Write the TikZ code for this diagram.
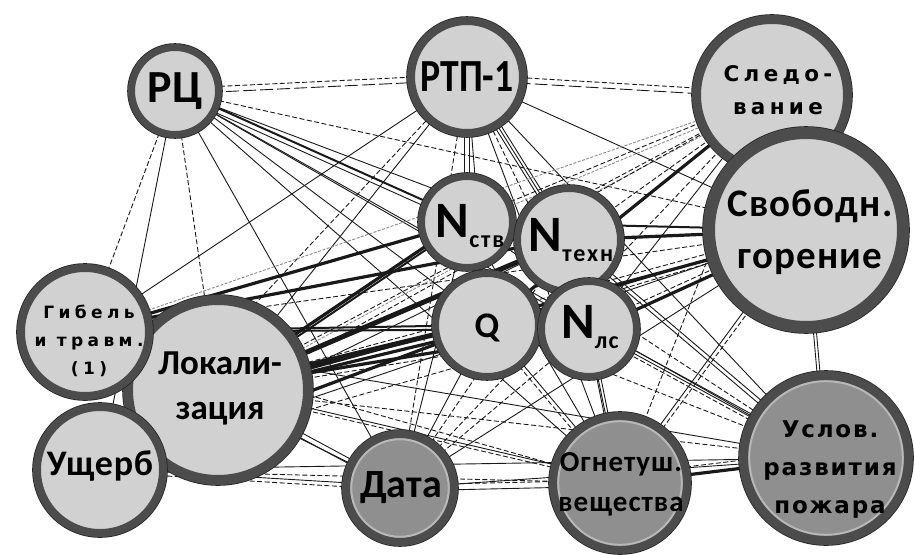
\documentclass[tikz,border=0pt]{standalone}
\usepackage{fontspec}
\setmainfont{Carlito}
\newfontfamily\dvs{DejaVu Sans}
\usetikzlibrary{calc,backgrounds}

\definecolor{bubfill}{gray}{0.82}
\definecolor{darkfill}{gray}{0.56}
\definecolor{ringc}{gray}{0.30}
\definecolor{innerc}{gray}{0.72}
\definecolor{edgec}{gray}{0.1}

% bold Carlito: letter spacing, size, baseline skip
\newcommand\bubfont[3]{\bfseries\fontsize{#2}{#3}\selectfont\addfontfeatures{LetterSpace=#1}}
% bold DejaVu Sans, same arguments
\newcommand\widefont[3]{\dvs\bfseries\fontsize{#2}{#3}\selectfont\addfontfeatures{LetterSpace=#1}}
% straight link between two bubbles, shifted sideways by #1 pt
\newcommand\lnk[4][0]{\draw[#2] ($(#3.center)!#1pt!90:(#4.center)$) -- ($(#4.center)!#1pt!-90:(#3.center)$);}

\tikzset{
  bub/.style={circle, inner sep=0pt, fill=bubfill, draw=ringc, line width=#1,
    preaction={draw=black!85, line width=#1+1.6pt}},
  darkbub/.style 2 args={bub=#1, fill=darkfill,
    path picture={\draw[innerc, line width=2pt] (path picture bounding box.center) circle[radius=#2];}},
  txt/.style={align=center, inner sep=0pt, text=black},
  thin/.style={draw=edgec, line width=0.9pt},
  dsh/.style={thin, dash pattern=on 5pt off 2.5pt},
  lds/.style={thin, dash pattern=on 13pt off 4pt},
  gds/.style={draw=black!45, line width=0.9pt, dash pattern=on 3pt off 1.5pt},
  mid/.style={draw=edgec, line width=2pt},
  thk/.style={draw=edgec, line width=3.2pt},
  hvy/.style={draw=edgec, line width=5pt},
}

\begin{document}
\begin{tikzpicture}[x=1pt,y=-1pt]
\useasboundingbox (0,0) rectangle (915,554);

% bubbles (later ones lie on top)
\node[bub=9pt,  minimum size=151pt] (sled)  at (772,95)  {};
\node[bub=12pt, minimum size=194pt] (svob)  at (806,230) {};
\node[bub=8pt,  minimum size=112pt] (rtp)   at (467,77)  {};
\node[bub=7pt,  minimum size=87pt]  (rc)    at (175,91)  {};
\node[bub=10pt, minimum size=180pt] (lok)   at (218,390) {};
\node[bub=8pt,  minimum size=128pt] (gib)   at (85,332)  {};
\node[bub=8pt,  minimum size=126pt] (ush)   at (100,470) {};
\node[bub=7pt,  minimum size=91pt]  (nstv)  at (467,222) {};
\node[bub=7pt,  minimum size=103pt] (ntech) at (569,240) {};
\node[bub=7pt,  minimum size=103pt] (q)     at (487,325) {};
\node[bub=7pt,  minimum size=95pt]  (nls)   at (589,329) {};
\node[darkbub={8pt}{48.8pt}, minimum size=108pt] (data) at (400,488) {};
\node[darkbub={8pt}{61.8pt}, minimum size=134pt] (ogn)  at (620,483) {};
\node[darkbub={9pt}{76.8pt}, minimum size=165pt] (usl)  at (826,458) {};

% texts
\node[txt, font=\bubfont{0}{46}{46}] (rc-t) at (rc) {РЦ};
\node[txt, font=\bubfont{0}{46}{46}] (rtp-t) at (rtp) {\scalebox{0.82}[1]{РТП-1}};
\node[txt, font=\widefont{20}{21.5}{33}] (sled-t) at (778,90) {Следо-\\вание};
\node[txt, font=\bubfont{3}{39}{52}] (svob-t) at (810,232) {Свободн.\\горение};
\node[txt, font=\bubfont{0}{51}{51}] (nstv-t) at (470,226) {N\raisebox{-10pt}{\bubfont{8}{24}{24}ств}};
\node[txt, font=\bubfont{0}{51}{51}] (ntech-t) at (571,240) {N\raisebox{-10pt}{\bubfont{8}{24}{24}техн}};
\node[txt, font=\bubfont{0}{36}{36}] (q-t) at (487,328) {Q};
\node[txt, font=\bubfont{0}{51}{51}] (nls-t) at (590,327) {N\raisebox{-10pt}{\bubfont{4}{24}{24}лс}};
\node[txt, font=\widefont{26}{17}{28}] (gib-t) at (89,341) {Гибель\\и травм.\\(1)};
\node[txt, font=\bubfont{0}{35}{45}] (lok-t) at (220,388) {Локали-\\зация};
\node[txt, font=\bubfont{2}{36}{36}] (ush-t) at (100,466) {Ущерб};
\node[txt, font=\bubfont{0}{40}{40}] (data-t) at (401,488) {Дата};
\node[txt, font=\bubfont{3.5}{29}{40}] (ogn-t) at (621,484) {Огнетуш.\\вещества};
\node[txt, font=\widefont{8}{23}{38}] (usl-t) at (830,470) {Услов.\\развития\\пожара};

\begin{pgfonlayer}{background}
\fill[white] (0,0) rectangle (915,554);
% from РЦ
\lnk[2.5]{dsh}{rc}{rtp}
\lnk[-3]{lds}{rc}{rtp}
\lnk{dsh}{rc}{gib}
\lnk{thin}{rc}{ush}
\lnk{dsh}{rc}{lok}
\lnk{thin}{rc}{data}
\lnk[2]{mid}{rc}{nstv}
\lnk[-3]{thin}{rc}{nstv}
\lnk{thin}{rc}{ntech}
\lnk[2]{thin}{rc}{q}
\lnk{thin}{rc}{nls}
\lnk{dsh}{rc}{svob}
\lnk{thin}{rc}{ogn}
\lnk{thin}{rc}{usl}
% from РТП-1
\lnk[2.5]{dsh}{rtp}{sled}
\lnk[-3]{lds}{rtp}{sled}
\lnk{thin}{rtp}{gib}
\lnk{thin}{rtp}{lok}
\lnk{dsh}{rtp}{ush}
\lnk[2.5]{thin}{rtp}{nstv}
\lnk[-2.5]{thin}{rtp}{nstv}
\lnk[3]{thin}{rtp}{ntech}
\lnk{thin}{rtp}{ntech}
\lnk[-3]{thin}{rtp}{ntech}
\lnk{thin}{rtp}{q}
\lnk{dsh}{rtp}{nls}
\lnk{thin}{rtp}{svob}
\lnk{dsh}{rtp}{data}
\lnk{thin}{rtp}{ogn}
\lnk{thin}{rtp}{usl}
% from Следование
\lnk[2]{gds}{sled}{nstv}
\lnk[-2]{dsh}{sled}{nstv}
\lnk{dsh}{sled}{ntech}
\lnk{thk}{sled}{q}
\lnk{thin}{sled}{nls}
\lnk{dsh}{sled}{lok}
\lnk[3]{gds}{sled}{lok}
\lnk{gds}{sled}{gib}
\lnk{dsh}{sled}{ush}
\lnk{dsh}{sled}{data}
\lnk{dsh}{sled}{ogn}
% from Свободн. горение
\lnk{thk}{svob}{ntech}
\lnk[2]{thk}{svob}{nls}
\lnk[-3]{dsh}{svob}{nls}
\lnk{mid}{svob}{q}
\lnk[4]{dsh}{svob}{q}
\lnk{mid}{svob}{nstv}
\lnk[3]{thk}{svob}{lok}
\lnk[-3]{dsh}{svob}{lok}
\lnk{dsh}{svob}{gib}
\lnk{thin}{svob}{ush}
\lnk{thin}{svob}{data}
\lnk[2]{dsh}{svob}{ogn}
\lnk[-2]{thin}{svob}{ogn}
\lnk[1.5]{thin}{svob}{usl}
\lnk[-1.5]{thin}{svob}{usl}
% from Гибель
\lnk{thk}{gib}{nstv}
\lnk[2]{thk}{gib}{ntech}
\lnk{mid}{gib}{q}
\lnk{mid}{gib}{nls}
\lnk{thin}{gib}{data}
\lnk{dsh}{gib}{ogn}
\lnk{thin}{gib}{usl}
% from Локализация
\lnk[3]{thk}{lok}{nstv}
\lnk{hvy}{lok}{ntech}
\lnk[3]{hvy}{lok}{q}
\lnk[-4]{thk}{lok}{q}
\lnk[2]{thk}{lok}{nls}
\lnk[-3]{dsh}{lok}{nls}
\lnk[2]{thin}{lok}{data}
\lnk[-3]{thin}{lok}{data}
\lnk{dsh}{lok}{ogn}
\lnk[3]{thin}{lok}{ogn}
\lnk{dsh}{lok}{usl}
% from Ущерб
\lnk{mid}{ush}{nstv}
\lnk{thin}{ush}{ntech}
\lnk{thk}{ush}{q}
\lnk{dsh}{ush}{nls}
\lnk[2]{thin}{ush}{data}
\lnk[-2]{dsh}{ush}{data}
\lnk{dsh}{ush}{ogn}
\lnk{thin}{ush}{usl}
% from the central group to the lower row
\lnk{thin}{nstv}{data}
\lnk{thin}{nstv}{ogn}
\lnk{dsh}{nstv}{usl}
\lnk{dsh}{ntech}{data}
\lnk{thin}{ntech}{ogn}
\lnk[2]{thin}{ntech}{usl}
\lnk[-2]{thin}{ntech}{usl}
\lnk{thin}{q}{data}
\lnk[2]{thin}{q}{ogn}
\lnk[-2]{dsh}{q}{ogn}
\lnk{dsh}{q}{usl}
\lnk{dsh}{nls}{data}
\lnk[2]{thin}{nls}{ogn}
\lnk[-2]{thin}{nls}{ogn}
\lnk[3]{thin}{nls}{usl}
\lnk{thin}{nls}{usl}
\lnk[-3]{dsh}{nls}{usl}
% lower row
\lnk[3]{dsh}{data}{ogn}
\lnk[-3]{thin}{data}{ogn}
\lnk{thin}{data}{usl}
\lnk{thk}{ogn}{usl}
\lnk[8]{dsh}{ogn}{usl}
\end{pgfonlayer}
\end{tikzpicture}
\end{document}
